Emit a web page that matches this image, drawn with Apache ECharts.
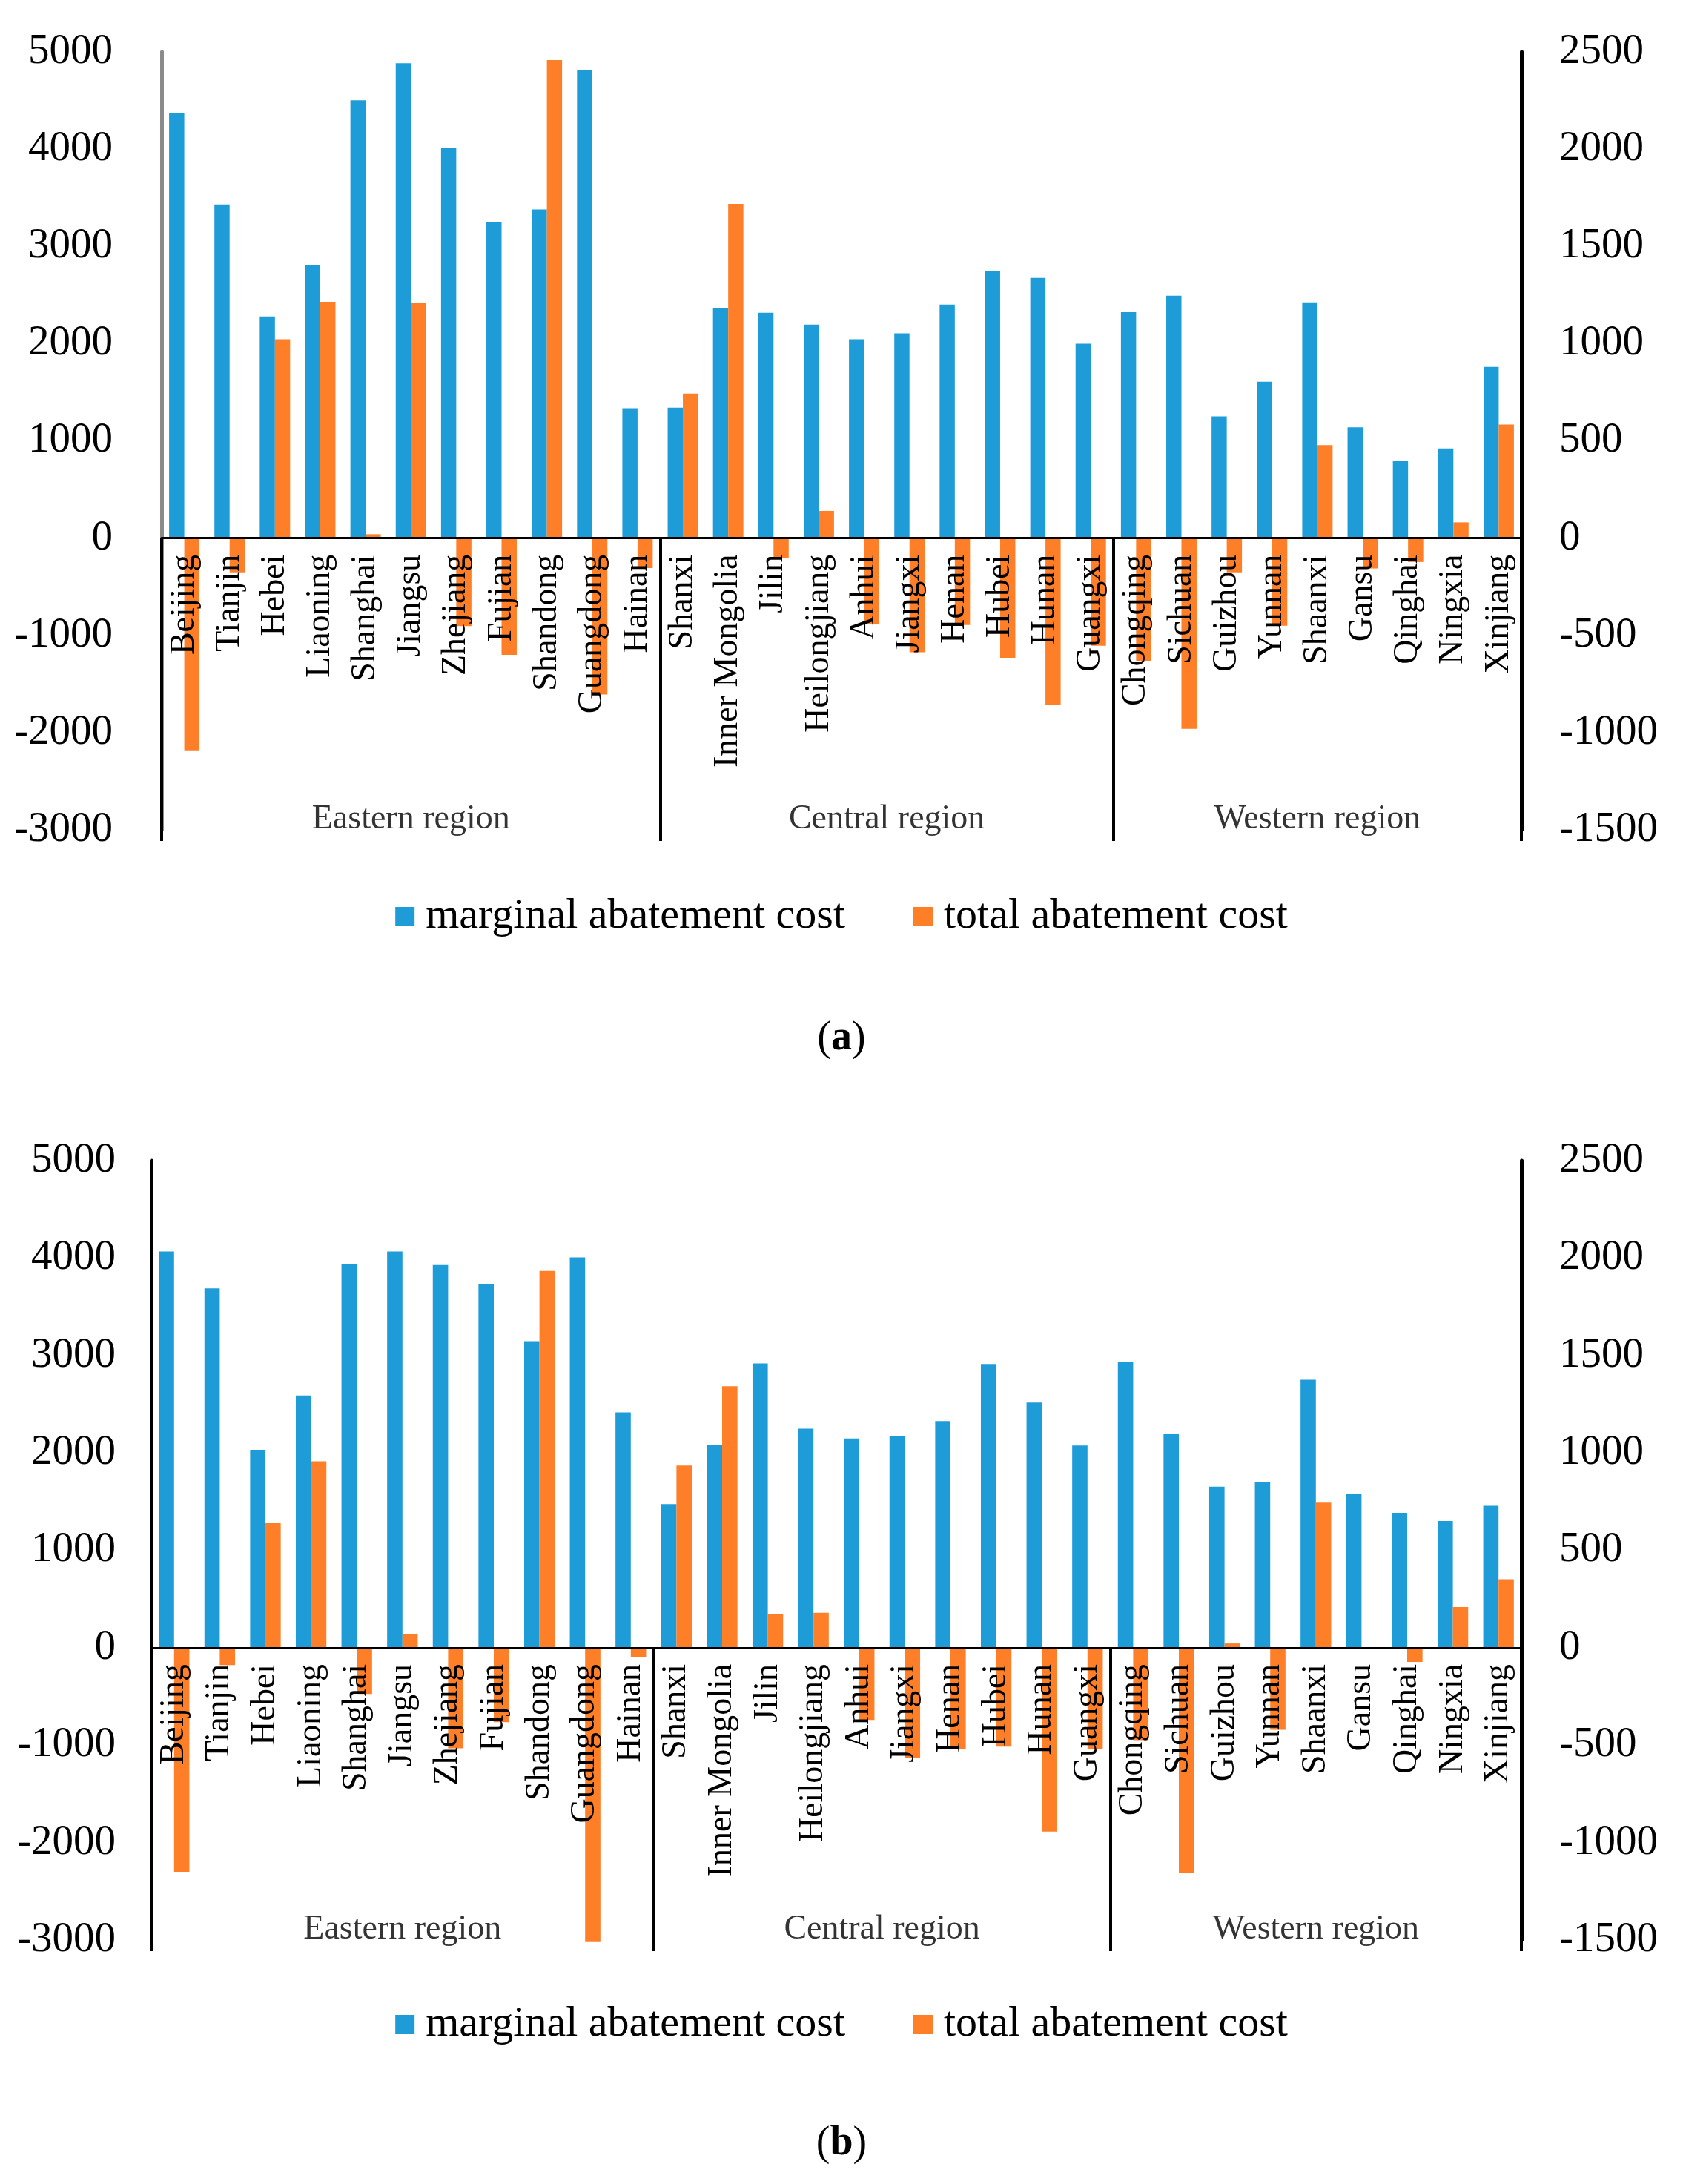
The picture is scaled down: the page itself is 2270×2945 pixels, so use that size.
<!DOCTYPE html>
<html>
<head>
<meta charset="utf-8">
<script src="https://cdn.jsdelivr.net/npm/echarts@6/dist/echarts.min.js"></script>
<style>
html,body{margin:0;padding:0;background:#fff;}
#chart{width:2270px;height:2945px;}
</style>
</head>
<body>
<div id="chart"></div>
<script>
const provinces = ['Beijing','Tianjin','Hebei','Liaoning','Shanghai','Jiangsu','Zhejiang','Fujian','Shandong','Guangdong','Hainan',
  'Shanxi','Inner Mongolia','Jilin','Heilongjiang','Anhui','Jiangxi','Henan','Hubei','Hunan','Guangxi',
  'Chongqing','Sichuan','Guizhou','Yunnan','Shaanxi','Gansu','Qinghai','Ningxia','Xinjiang'];
const regionNames = ['Eastern region','Central region','Western region'];
const regionCounts = [11, 10, 9];

const marginalA = [4374,3430,2279,2804,4503,4883,4011,3251,3380,4810,1335,
  1341,2369,2318,2196,2045,2106,2402,2749,2676,2000,
  2324,2492,1251,1609,2425,1140,793,922,1760];
const totalA = [-1095,-176,1022,1215,20,1207,-452,-600,2458,-804,-154,
  743,1718,-103,140,-441,-587,-447,-615,-858,-553,
  -631,-980,-176,-450,478,-156,-123,81,584];

const marginalB = [4068,3689,2031,2589,3940,4068,3929,3733,3147,4007,2416,
  1473,2082,2919,2249,2148,2171,2327,2913,2517,2076,
  2935,2193,1652,1696,2751,1574,1384,1300,1457];
const totalB = [-1150,-89,639,957,-237,70,-516,-382,1934,-1510,-47,
  935,1342,173,179,-371,-564,-522,-508,-943,-522,
  -474,-1155,22,-421,745,0,-73,209,352];

const leftTicks = {min:-3000, max:5000, interval:1000};
const rightTicks = {min:-1500, max:2500, interval:500};

const FONT = 'Liberation Serif';
const BLUE = '#1E9CD8';
const ORANGE = '#FE7F27';
const names = ['marginal abatement cost','total abatement cost'];

const starts = [];
let acc = 0;
regionCounts.forEach(c => { starts.push(acc); acc += c; });
const regionLabelData = regionNames.map((n, i) => ({name: n, value: [starts[i] + regionCounts[i] / 2, -2890]}));

const grids = [
  {left: 218, right: 218, top: 70, height: 1049, leftColor: '#8a8a8a', leftMargin: 66},
  {left: 204, right: 218, top: 1565, height: 1051, leftColor: '#000', leftMargin: 48}
];

const xAxes = [], yAxes = [], series = [];
const datasets = [[marginalA, totalA], [marginalB, totalB]];
const plainNum = v => String(v);

grids.forEach((g, gi) => {
  const belowFrac = (0 - leftTicks.min) / (leftTicks.max - leftTicks.min);
  const zeroOffset = g.height * belowFrac;
  const tickLen = zeroOffset + 15;
  xAxes.push({
    type: 'category', gridIndex: gi, data: provinces, z: 10, position: 'bottom', offset: -zeroOffset,
    axisLine: {show: true, onZero: false, lineStyle: {color: '#000', width: 3}},
    axisTick: {show: true, length: tickLen, interval: (idx) => starts.indexOf(idx) >= 0,
      lineStyle: {color: '#000', width: 4}},
    axisLabel: {interval: 0, rotate: 90, margin: 22, fontSize: 46, color: '#000', fontFamily: FONT, hideOverlap: false},
    splitLine: {show: false}
  });
  xAxes.push({
    type: 'value', gridIndex: gi, min: 0, max: provinces.length, show: false
  });
  yAxes.push({
    type: 'value', gridIndex: gi, position: 'left', min: leftTicks.min, max: leftTicks.max, interval: leftTicks.interval,
    axisLine: {show: true, onZero: false, lineStyle: {color: g.leftColor, width: 5}},
    axisTick: {show: false}, splitLine: {show: false},
    axisLabel: {fontSize: 57, color: '#000', fontFamily: FONT, margin: g.leftMargin, formatter: plainNum}
  });
  yAxes.push({
    type: 'value', gridIndex: gi, position: 'right', min: rightTicks.min, max: rightTicks.max, interval: rightTicks.interval,
    axisLine: {show: true, onZero: false, lineStyle: {color: '#000', width: 5}},
    axisTick: {show: false}, splitLine: {show: false},
    axisLabel: {fontSize: 57, color: '#000', fontFamily: FONT, margin: 51, formatter: plainNum}
  });
  series.push({
    name: names[0], type: 'bar', xAxisIndex: gi * 2, yAxisIndex: gi * 2,
    data: datasets[gi][0], itemStyle: {color: BLUE}, barGap: '0%', barCategoryGap: '33%'
  });
  series.push({
    name: names[1], type: 'bar', xAxisIndex: gi * 2, yAxisIndex: gi * 2 + 1,
    data: datasets[gi][1], itemStyle: {color: ORANGE}, barGap: '0%', barCategoryGap: '33%', clip: false
  });
  series.push({
    type: 'scatter', xAxisIndex: gi * 2 + 1, yAxisIndex: gi * 2, symbolSize: 0, silent: true,
    data: regionLabelData,
    label: {show: true, position: 'inside', formatter: p => p.name, fontSize: 46, color: '#000', fontFamily: FONT}
  });
});

const legendCommon = {
  data: names, left: 'center', icon: 'rect', itemWidth: 26, itemHeight: 26, itemGap: 92,
  textStyle: {fontSize: 58, color: '#000', fontFamily: FONT, padding: [0, 0, 0, 10]}, selectedMode: false
};

const titleRich = {
  n: {fontSize: 56, fontFamily: FONT, color: '#000', fontWeight: 'normal'},
  b: {fontSize: 56, fontFamily: FONT, color: '#000', fontWeight: 'bold'}
};

const chart = echarts.init(document.getElementById('chart'), null, {renderer: 'canvas'});
chart.setOption({
  animation: false,
  backgroundColor: '#fff',
  title: [
    {text: '{n|(}{b|a}{n|)}', left: 'center', top: 1368, textStyle: {fontWeight: 'normal', rich: titleRich}},
    {text: '{n|(}{b|b}{n|)}', left: 'center', top: 2858, textStyle: {fontWeight: 'normal', rich: titleRich}}
  ],
  legend: [
    Object.assign({top: 1202}, legendCommon),
    Object.assign({top: 2696}, legendCommon)
  ],
  grid: grids.map(g => ({left: g.left, right: g.right, top: g.top, height: g.height})),
  xAxis: xAxes,
  yAxis: yAxes,
  series: series
});
</script>
</body>
</html>
